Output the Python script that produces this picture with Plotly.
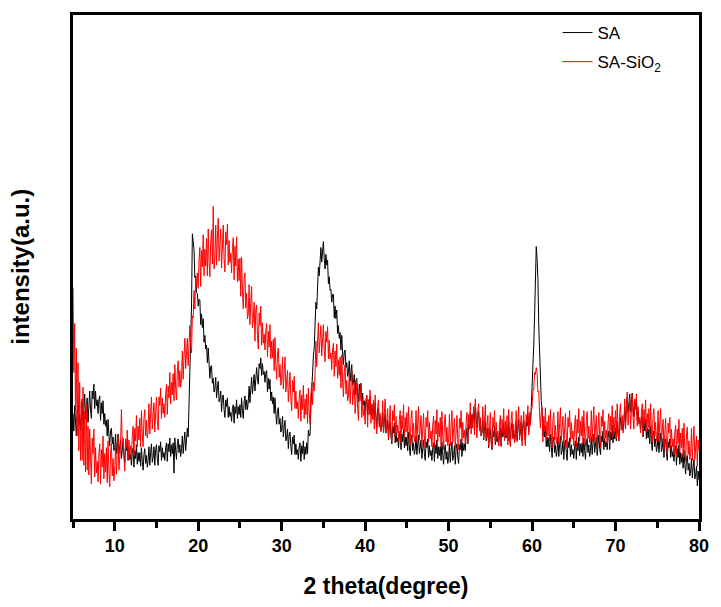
import numpy as np
import plotly.graph_objects as go

# 2-theta grid (degrees): 5.0 .. 80.0, step 0.1
TWO_THETA_START = 5.0
TWO_THETA_STEP = 0.1
N_POINTS = 751
two_theta = np.round(TWO_THETA_START + TWO_THETA_STEP * np.arange(N_POINTS), 2)

# Intensity (a.u.); one row per degree (x.0 .. x.9)
sa = [
    108, 90, 116, 98, 85, 109, 116, 96, 107, 91,        # 5
    102, 123, 97, 114, 128, 102, 110, 124, 99, 122,     # 6
    131, 112, 103, 131, 123, 138, 113, 131, 116, 122,   # 7
    108, 122, 126, 101, 119, 108, 121, 97, 108, 95,     # 8
    101, 85, 102, 86, 75, 90, 93, 77, 84, 70,           # 9
    73, 87, 67, 78, 87, 67, 72, 81, 62, 77,             # 10
    79, 65, 57, 76, 70, 79, 60, 72, 61, 66,             # 11
    55, 68, 73, 53, 70, 62, 76, 56, 68, 59,             # 12
    68, 54, 73, 59, 50, 66, 72, 57, 65, 53,             # 13
    60, 74, 55, 68, 77, 58, 63, 74, 55, 71,             # 14
    76, 62, 55, 75, 69, 79, 60, 73, 63, 68,             # 15
    60, 73, 78, 59, 77, 69, 83, 64, 76, 67,             # 16
    78, 47, 83, 70, 61, 77, 82, 68, 76, 64,             # 17
    71, 85, 67, 79, 89, 70, 78, 93, 84, 115,            # 18
    139, 165, 218, 292, 281, 276, 247, 249, 232, 231,   # 19
    218, 225, 224, 199, 210, 196, 205, 181, 188, 174,   # 20
    178, 160, 175, 157, 144, 156, 157, 139, 144, 130,   # 21
    134, 145, 124, 134, 141, 120, 123, 131, 110, 125,   # 22
    127, 112, 104, 122, 115, 124, 104, 115, 105, 109,   # 23
    100, 113, 117, 98, 115, 108, 122, 103, 115, 107,    # 24
    117, 104, 124, 111, 103, 120, 126, 112, 122, 112,   # 25
    120, 136, 119, 133, 145, 128, 136, 148, 131, 149,   # 26
    155, 143, 138, 159, 154, 165, 147, 159, 148, 151,   # 27
    140, 150, 152, 130, 144, 133, 143, 121, 130, 118,   # 28
    125, 108, 124, 108, 97, 111, 114, 97, 103, 89,      # 29
    93, 105, 84, 94, 101, 80, 84, 92, 72, 86,           # 30
    89, 74, 66, 84, 77, 86, 66, 77, 66, 71,             # 31
    61, 74, 78, 59, 75, 67, 80, 61, 74, 66,             # 32
    78, 67, 91, 85, 86, 114, 134, 139, 167, 175,        # 33
    196, 222, 215, 239, 258, 249, 262, 278, 263, 281,   # 34
    284, 267, 256, 271, 260, 265, 241, 248, 234, 235,   # 35
    222, 230, 230, 206, 218, 205, 214, 190, 198, 185,   # 36
    191, 173, 188, 170, 158, 171, 173, 155, 160, 146,   # 37
    150, 162, 141, 151, 158, 137, 140, 148, 127, 142,   # 38
    144, 129, 120, 138, 130, 139, 118, 129, 117, 121,   # 39
    110, 122, 126, 106, 122, 113, 126, 106, 117, 107,   # 40
    116, 101, 119, 104, 94, 109, 113, 97, 104, 91,      # 41
    96, 109, 89, 100, 108, 88, 92, 101, 81, 96,         # 42
    99, 84, 77, 95, 88, 98, 78, 89, 79, 83,             # 43
    73, 86, 90, 71, 87, 79, 92, 73, 84, 75,             # 44
    84, 70, 89, 74, 65, 81, 86, 70, 78, 66,             # 45
    71, 85, 66, 77, 86, 67, 72, 81, 62, 78,             # 46
    81, 67, 60, 79, 73, 82, 63, 75, 65, 70,             # 47
    60, 73, 78, 59, 76, 67, 81, 62, 74, 65,             # 48
    74, 60, 79, 65, 56, 71, 76, 61, 69, 57,             # 49
    63, 77, 58, 70, 79, 60, 65, 75, 56, 72,             # 50
    77, 63, 57, 76, 71, 82, 64, 78, 70, 77,             # 51
    70, 85, 93, 77, 97, 92, 109, 93, 107, 100,          # 52
    112, 99, 118, 103, 93, 107, 110, 93, 99, 85,        # 53
    89, 101, 81, 92, 100, 80, 84, 93, 73, 88,           # 54
    92, 78, 71, 90, 84, 95, 76, 88, 79, 84,             # 55
    75, 88, 93, 75, 92, 84, 98, 80, 92, 83,             # 56
    94, 80, 99, 85, 76, 93, 98, 83, 91, 79,             # 57
    86, 100, 81, 93, 102, 84, 89, 99, 80, 96,           # 58
    101, 87, 81, 100, 95, 106, 89, 104, 99, 114,        # 59
    134, 145, 178, 207, 236, 279, 267, 245, 199, 172,   # 60
    130, 121, 112, 85, 96, 84, 95, 74, 84, 74,          # 61
    83, 69, 87, 73, 63, 79, 84, 68, 76, 64,             # 62
    70, 84, 64, 76, 85, 66, 70, 80, 61, 77,             # 63
    81, 67, 60, 79, 73, 83, 64, 76, 66, 71,             # 64
    62, 75, 80, 61, 78, 70, 84, 65, 77, 68,             # 65
    78, 64, 83, 70, 61, 77, 82, 68, 76, 64,             # 66
    70, 84, 66, 78, 87, 68, 74, 84, 65, 81,             # 67
    86, 72, 66, 85, 79, 90, 71, 83, 74, 79,             # 68
    71, 84, 90, 71, 89, 81, 96, 78, 90, 82,             # 69
    93, 80, 100, 87, 80, 97, 104, 91, 101, 91,          # 70
    99, 115, 98, 113, 125, 109, 116, 128, 110, 126,     # 71
    129, 114, 105, 122, 114, 122, 101, 111, 99, 102,    # 72
    91, 102, 105, 84, 99, 90, 102, 82, 93, 83,          # 73
    92, 77, 95, 80, 70, 86, 90, 74, 82, 69,             # 74
    74, 88, 68, 80, 88, 69, 73, 83, 63, 79,             # 75
    82, 68, 60, 79, 73, 82, 63, 75, 64, 69,             # 76
    59, 71, 75, 55, 72, 63, 76, 56, 68, 58,             # 77
    67, 52, 70, 56, 46, 61, 65, 50, 57, 44,             # 78
    49, 62, 42, 53, 61, 41, 45, 54, 34, 49,             # 79
    40,                                                 # 80
]

sa_sio2 = [
    237, 150, 200, 110, 175, 85, 160, 70, 140, 60,      # 5
    120, 60, 135, 55, 110, 48, 118, 50, 95, 45,         # 6
    92, 53, 36, 83, 67, 92, 43, 73, 47, 59,             # 7
    38, 66, 77, 36, 71, 53, 85, 41, 67, 48,             # 8
    73, 37, 80, 49, 33, 67, 77, 44, 62, 39,             # 9
    50, 77, 46, 67, 84, 50, 60, 77, 112, 76,            # 10
    83, 59, 49, 82, 73, 91, 60, 81, 65, 75,             # 11
    62, 85, 95, 64, 93, 80, 106, 74, 95, 81,            # 12
    103, 74, 111, 86, 74, 103, 112, 85, 101, 83,        # 13
    91, 118, 87, 108, 125, 92, 102, 119, 89, 118,       # 14
    125, 101, 91, 125, 116, 134, 103, 124, 108, 118,    # 15
    104, 127, 138, 107, 136, 124, 150, 118, 140, 127,   # 16
    149, 121, 158, 134, 122, 152, 162, 135, 152, 135,   # 17
    144, 172, 143, 166, 185, 154, 166, 185, 157, 188,   # 18
    198, 177, 170, 208, 206, 234, 215, 247, 238, 252,   # 19
    236, 265, 278, 238, 275, 258, 291, 249, 276, 259,   # 20
    287, 249, 297, 264, 248, 285, 296, 261, 320, 256,   # 21
    267, 301, 260, 287, 308, 264, 276, 297, 257, 293,   # 22
    301, 267, 253, 294, 281, 302, 260, 285, 263, 272,   # 23
    252, 278, 288, 245, 279, 259, 289, 243, 266, 244,   # 24
    267, 228, 268, 234, 215, 246, 252, 216, 231, 205,   # 25
    210, 240, 199, 221, 238, 196, 204, 222, 182, 214,   # 26
    219, 188, 174, 211, 198, 218, 178, 201, 180, 189,   # 27
    173, 193, 200, 166, 192, 176, 199, 164, 182, 165,   # 28
    184, 152, 186, 158, 143, 169, 175, 145, 158, 137,   # 29
    142, 166, 133, 151, 166, 130, 138, 152, 120, 146,   # 30
    150, 124, 111, 142, 130, 146, 113, 131, 113, 120,   # 31
    103, 124, 132, 100, 127, 112, 137, 103, 123, 107,   # 32
    128, 98, 134, 109, 97, 127, 139, 117, 140, 131,     # 33
    148, 182, 156, 181, 201, 170, 181, 198, 167, 194,   # 34
    199, 173, 161, 192, 181, 197, 164, 183, 164, 170,   # 35
    153, 173, 180, 146, 172, 156, 179, 144, 163, 147,   # 36
    166, 134, 168, 140, 125, 151, 158, 128, 142, 121,   # 37
    126, 151, 118, 137, 152, 117, 125, 140, 108, 135,   # 38
    139, 113, 101, 132, 121, 137, 104, 123, 106, 113,   # 39
    97, 118, 127, 94, 122, 107, 132, 98, 118, 102,      # 40
    122, 92, 127, 101, 87, 115, 122, 94, 108, 89,       # 41
    95, 121, 88, 108, 123, 89, 98, 113, 82, 110,        # 42
    116, 90, 79, 111, 101, 117, 85, 105, 88, 96,        # 43
    80, 102, 111, 78, 106, 92, 117, 84, 104, 89,        # 44
    109, 79, 115, 89, 76, 103, 111, 83, 98, 79,         # 45
    85, 111, 79, 99, 115, 81, 90, 106, 75, 103,         # 46
    108, 83, 72, 104, 94, 111, 79, 99, 82, 90,          # 47
    74, 96, 105, 73, 101, 87, 112, 79, 99, 84,          # 48
    104, 74, 110, 84, 71, 99, 107, 79, 94, 75,          # 49
    81, 107, 75, 95, 111, 78, 87, 103, 72, 100,         # 50
    106, 81, 71, 103, 93, 111, 79, 99, 83, 91,          # 51
    77, 99, 109, 78, 107, 93, 119, 87, 107, 93,         # 52
    115, 86, 123, 97, 83, 111, 118, 90, 104, 85,        # 53
    90, 115, 82, 101, 117, 82, 91, 106, 75, 103,        # 54
    109, 84, 72, 104, 94, 111, 79, 99, 82, 90,          # 55
    75, 97, 106, 74, 102, 88, 113, 80, 100, 85,         # 56
    106, 76, 112, 86, 74, 102, 110, 82, 97, 78,         # 57
    85, 111, 79, 99, 115, 81, 90, 106, 75, 103,         # 58
    110, 85, 75, 107, 98, 116, 86, 109, 96, 110,        # 59
    114, 132, 132, 150, 148, 155, 150, 130, 131, 109,   # 60
    93, 109, 114, 79, 105, 90, 114, 81, 100, 85,        # 61
    106, 76, 112, 86, 73, 101, 109, 81, 96, 77,         # 62
    84, 110, 78, 98, 114, 80, 89, 105, 74, 102,         # 63
    108, 83, 72, 104, 94, 111, 79, 99, 82, 90,          # 64
    75, 97, 106, 74, 102, 88, 113, 80, 100, 85,         # 65
    105, 77, 111, 87, 74, 100, 110, 82, 95, 78,         # 66
    85, 111, 79, 99, 115, 81, 90, 106, 75, 103,         # 67
    109, 84, 73, 105, 95, 112, 80, 100, 83, 91,         # 68
    77, 99, 108, 77, 105, 91, 116, 84, 104, 89,         # 69
    111, 82, 118, 93, 81, 109, 118, 91, 106, 88,        # 70
    96, 123, 92, 113, 130, 96, 106, 123, 92, 121,       # 71
    128, 104, 92, 123, 112, 128, 95, 115, 97, 104,      # 72
    88, 109, 118, 85, 112, 98, 122, 89, 108, 93,        # 73
    113, 83, 118, 92, 78, 106, 113, 85, 99, 80,         # 74
    86, 111, 79, 98, 113, 79, 87, 102, 71, 98,          # 75
    103, 78, 66, 98, 88, 104, 72, 92, 74, 82,           # 76
    66, 88, 96, 64, 92, 77, 102, 69, 88, 73,            # 77
    93, 63, 98, 72, 59, 86, 94, 66, 80, 61,             # 78
    67, 93, 60, 80, 95, 61, 70, 85, 54, 81,             # 79
    70,                                                 # 80
]

assert len(sa) == N_POINTS and len(sa_sio2) == N_POINTS

series_names = ["SA", "SA-SiO<sub>2</sub>"]
series_colors = ["#000000", "#ff0000"]

x_tick_values = [10, 20, 30, 40, 50, 60, 70, 80]
x_tick_labels = ["10", "20", "30", "40", "50", "60", "70", "80"]
x_minor_values = [5, 15, 25, 35, 45, 55, 65, 75]

FONT = "Arial, Liberation Sans, Helvetica, sans-serif"

fig = go.Figure()
for i, (name, ys, col) in enumerate(zip(series_names, [sa, sa_sio2], series_colors)):
    fig.add_trace(go.Scatter(
        x=two_theta, y=ys, mode="lines", name=name, legendgroup=f"g{i}",
        line=dict(color=col, width=1),
    ))

fig.update_layout(
    width=721, height=607,
    margin=dict(l=73, r=15, t=12, b=79),
    paper_bgcolor="white", plot_bgcolor="white",
    font=dict(family=FONT, color="black"),
    showlegend=True,
    legend=dict(
        x=0.774, y=1.0, xanchor="left", yanchor="top",
        bgcolor="rgba(0,0,0,0)", borderwidth=0,
        font=dict(family=FONT, size=17, color="black"),
        traceorder="grouped", tracegroupgap=4,
    ),
    annotations=[dict(
        text="<b>intensity(a.u.)</b>", textangle=-90,
        xref="paper", yref="paper", x=-0.085, y=0.5,
        xanchor="center", yanchor="middle", showarrow=False,
        font=dict(family=FONT, size=24, color="black"),
    )],
)

fig.update_xaxes(
    range=[5, 80],
    tickmode="array", tickvals=x_tick_values, ticktext=x_tick_labels,
    ticks="outside", ticklen=9, tickwidth=2.5, tickcolor="black",
    minor=dict(tickmode="array", tickvals=x_minor_values,
               ticks="outside", ticklen=6, tickwidth=2.5, tickcolor="black"),
    showline=True, linewidth=2.5, linecolor="black", mirror=True,
    showgrid=False, zeroline=False,
    tickfont=dict(family=FONT, size=18, color="black", weight="bold"),
    title=dict(text="<b>2 theta(degree)</b>", font=dict(family=FONT, size=23, color="black"),
               standoff=23),
)
fig.update_yaxes(
    range=[0, 516],
    showticklabels=False, ticks="",
    showline=True, linewidth=2.5, linecolor="black", mirror=True,
    showgrid=False, zeroline=False,
)

fig.write_html("out.html")
